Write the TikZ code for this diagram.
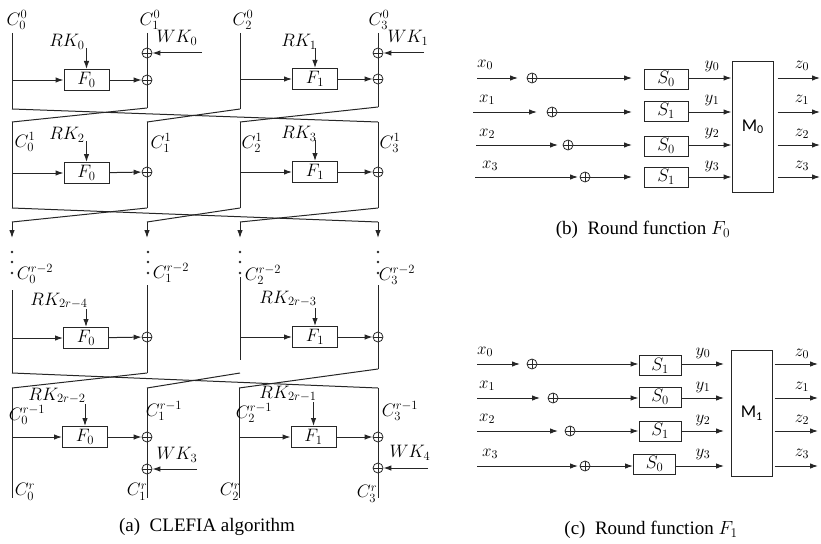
\RequirePackage{fix-cm}
\documentclass[tikz,border=0pt]{standalone}
\usepackage{fontspec}
\setmainfont{Liberation Serif}
\newfontfamily\sansM{Carlito}
\usetikzlibrary{arrows.meta}
\tikzset{
  ln/.style={draw=black!85, line width=1pt},
  arr/.style={ln, -{Latex[length=8pt,width=5.5pt]}},
  fbox/.style={draw=black!85, line width=1pt, minimum width=45pt, minimum height=21pt, inner sep=0pt, font=\fontsize{18}{18}\selectfont},
  sbox/.style={draw=black!85, line width=1pt, minimum width=44pt, minimum height=20pt, inner sep=0pt, font=\fontsize{18}{18}\selectfont},
  mbox/.style={draw=black!85, line width=1pt, minimum width=41pt, inner sep=0pt, font=\fontsize{18}{18}\selectfont},
  xor/.style={circle, draw=black!85, line width=0.8pt, minimum size=10pt, inner sep=0pt,
    path picture={\draw[line width=0.7pt] (path picture bounding box.north) -- (path picture bounding box.south)
      (path picture bounding box.west) -- (path picture bounding box.east);}},
  lab/.style={inner sep=0pt, font=\fontsize{18}{18}\selectfont},
  rlab/.style={inner sep=0pt, font=\fontsize{17}{17}\selectfont},
  captxt/.style={inner sep=0pt, font=\fontsize{19}{19}\selectfont},
  dotn/.style={circle, fill=black!85, inner sep=0pt, minimum size=2.8pt},
}
\begin{document}
\begin{tikzpicture}[x=1pt,y=-1pt]
\useasboundingbox (0,0) rectangle (821,543);
% ===================== (a) CLEFIA =====================
% ---- row 0 ----
\node[lab] (C00) at (17,20) {$C_0^0$};
\node[lab] (C10) at (150,20) {$C_1^0$};
\node[lab] (C20) at (243,20) {$C_2^0$};
\node[lab] (C30) at (379,20) {$C_3^0$};
\coordinate (a0t) at (12,33);  \coordinate (a0b) at (12,109);
\coordinate (a1t) at (147,33); \coordinate (a1b) at (147,108);
\coordinate (a2t) at (240,33); \coordinate (a2b) at (240,109);
\coordinate (a3t) at (378,33); \coordinate (a3b) at (378,107);
\node[fbox] (F00) at (86.5,80) {$F_0$};
\node[fbox] (F10) at (315,79) {$F_1$};
\node[xor] (w0) at (147,53) {};
\node[xor] (p0) at (147,80) {};
\node[xor] (w1) at (378,53) {};
\node[xor] (p1) at (378,79) {};
\draw[ln] (a0t) -- (a0b);
\draw[arr] (a0t |- F00) -- (F00);
\draw[arr] (F00) -- (p0);
\draw[ln] (a1t) -- (w0) -- (p0) -- (a1b);
\draw[ln] (a2t) -- (a2b);
\draw[arr] (a2t |- F10) -- (F10);
\draw[arr] (F10) -- (p1);
\draw[ln] (a3t) -- (w1) -- (p1) -- (a3b);
\coordinate (wk0s) at (202,53); \draw[arr] (wk0s) -- (w0);
\node[lab] (WK0) at (177,38) {$WK_0$};
\coordinate (wk1s) at (424,53); \draw[arr] (wk1s) -- (w1);
\node[lab] (WK1) at (408,38) {$WK_1$};
\node[lab] (RK0) at (67,42) {$RK_0$};
\coordinate (rk0s) at (86.5,48); \draw[arr] (rk0s) -- (F00);
\node[lab] (RK1) at (299,42) {$RK_1$};
\coordinate (rk1s) at (315,48); \draw[arr] (rk1s) -- (F10);
% ---- crossing 1 ----
\coordinate (b0t) at (12,122);  \coordinate (b0b) at (12,208);
\coordinate (b1t) at (147,122); \coordinate (b1b) at (147,208);
\coordinate (b2t) at (240,122); \coordinate (b2b) at (240,208);
\coordinate (b3t) at (378,122); \coordinate (b3b) at (378,208);
\draw[ln] (a0b) -- (b3t);
\draw[ln] (a1b) -- (b0t);
\draw[ln] (a2b) -- (b1t);
\draw[ln] (a3b) -- (b2t);
% ---- row 1 ----
\node[fbox] (F01) at (86.5,173) {$F_0$};
\node[fbox] (F11) at (315,172) {$F_1$};
\node[xor] (p2) at (147,172) {};
\node[xor] (p3) at (378,172) {};
\draw[ln] (b0t) -- (b0b);
\draw[arr] (b0t |- F01) -- (F01);
\draw[arr] (F01) -- (p2);
\draw[ln] (b1t) -- (p2) -- (b1b);
\draw[ln] (b2t) -- (b2b);
\draw[arr] (b2t |- F11) -- (F11);
\draw[arr] (F11) -- (p3);
\draw[ln] (b3t) -- (p3) -- (b3b);
\node[lab] (C01) at (25,142) {$C_0^1$};
\node[lab] (C11) at (161,143) {$C_1^1$};
\node[lab] (C21) at (252,143) {$C_2^1$};
\node[lab] (C31) at (390,143) {$C_3^1$};
\node[lab] (RK2) at (67,135) {$RK_2$};
\coordinate (rk2s) at (86.5,141); \draw[arr] (rk2s) -- (F01);
\node[lab] (RK3) at (299,134) {$RK_3$};
\coordinate (rk3s) at (315,140); \draw[arr] (rk3s) -- (F11);
% ---- crossing 2 ----
\coordinate (c0t) at (12,222);  \coordinate (c0a) at (12,238);
\coordinate (c1t) at (147,222); \coordinate (c1a) at (147,238);
\coordinate (c2t) at (240,222); \coordinate (c2a) at (240,238);
\coordinate (c3t) at (378,222); \coordinate (c3a) at (378,238);
\draw[ln] (b0b) -- (c3t);
\draw[ln] (b1b) -- (c0t);
\draw[ln] (b2b) -- (c1t);
\draw[ln] (b3b) -- (c2t);
\draw[arr] (c0t) -- (c0a);
\draw[arr] (c1t) -- (c1a);
\draw[arr] (c2t) -- (c2a);
\draw[arr] (c3t) -- (c3a);
% ---- dots ----
\foreach \xx/\nm in {12/q0,148/q1,240/q2,378/q3}{
  \node[dotn] (\nm a) at (\xx,252) {};
  \node[dotn] (\nm b) at (\xx,262) {};
  \node[dotn] (\nm c) at (\xx,273) {};
}
\node[lab] (C0r2) at (35,274) {$C_0^{r-2}$};
\node[lab] (C1r2) at (171,273) {$C_1^{r-2}$};
\node[lab] (C2r2) at (263,275) {$C_2^{r-2}$};
\node[lab] (C3r2) at (397,275) {$C_3^{r-2}$};
% ---- row r-2 ----
\coordinate (d0t) at (12,290);  \coordinate (d0b) at (12,373);
\coordinate (d1t) at (147,285); \coordinate (d1b) at (147,373);
\coordinate (d2t) at (240,277); \coordinate (d2b) at (240,360); \coordinate (d2c) at (240,373);
\coordinate (d3t) at (378,285); \coordinate (d3b) at (378,369);
\node[fbox] (F02) at (86,338) {$F_0$};
\node[fbox] (F12) at (315,337) {$F_1$};
\node[xor] (p4) at (147,337) {};
\node[xor] (p5) at (378,337) {};
\draw[ln] (d0t) -- (d0b);
\draw[arr] (d0t |- F02) -- (F02);
\draw[arr] (F02) -- (p4);
\draw[ln] (d1t) -- (p4) -- (d1b);
\draw[ln] (d2t) -- (d2b);
\draw[arr] (d2t |- F12) -- (F12);
\draw[arr] (F12) -- (p5);
\draw[ln] (d3t) -- (p5) -- (d3b);
\node[lab] (RK4) at (59,301) {$RK_{2r-4}$};
\coordinate (rk4s) at (86,309); \draw[arr] (rk4s) -- (F02);
\node[lab] (RK5) at (288,299) {$RK_{2r-3}$};
\coordinate (rk5s) at (315,308); \draw[arr] (rk5s) -- (F12);
% ---- crossing 3 ----
\coordinate (e0t) at (12,388);  \coordinate (e0b) at (12,498);
\coordinate (e1t) at (147,388); \coordinate (e1b) at (147,498);
\coordinate (e2t) at (239,388); \coordinate (e2b) at (239,498);
\coordinate (e3t) at (378,388); \coordinate (e3b) at (378,498);
\draw[ln] (d0b) -- (e3t);
\draw[ln] (d1b) -- (e0t);
\draw[ln] (d2c) -- (e1t);
\draw[ln] (d3b) -- (e2t);
% ---- row r-1 ----
\node[fbox] (F03) at (85,437) {$F_0$};
\node[fbox] (F13) at (313.5,437) {$F_1$};
\node[xor] (p6) at (147,437) {};
\node[xor] (w3) at (147,469) {};
\node[xor] (p7) at (378,437) {};
\node[xor] (w4) at (378,468) {};
\draw[ln] (e0t) -- (e0b);
\draw[arr] (e0t |- F03) -- (F03);
\draw[arr] (F03) -- (p6);
\draw[ln] (e1t) -- (p6) -- (w3) -- (e1b);
\draw[ln] (e2t) -- (e2b);
\draw[arr] (e2t |- F13) -- (F13);
\draw[arr] (F13) -- (p7);
\draw[ln] (e3t) -- (p7) -- (w4) -- (e3b);
\coordinate (wk3s) at (197,469); \draw[arr] (wk3s) -- (w3);
\node[lab] (WK3) at (177,455) {$WK_3$};
\coordinate (wk4s) at (428,468); \draw[arr] (wk4s) -- (w4);
\node[lab] (WK4) at (410,453) {$WK_4$};
\node[lab] (RK6) at (57,396) {$RK_{2r-2}$};
\coordinate (rk6s) at (85,404); \draw[arr] (rk6s) -- (F03);
\node[lab] (RK7) at (288,394) {$RK_{2r-1}$};
\coordinate (rk7s) at (313.5,402); \draw[arr] (rk7s) -- (F13);
\node[lab] (C0r1) at (27,415) {$C_0^{r-1}$};
\node[lab] (C1r1) at (164,411) {$C_1^{r-1}$};
\node[lab] (C2r1) at (254,413) {$C_2^{r-1}$};
\node[lab] (C3r1) at (400,411) {$C_3^{r-1}$};
\node[lab] (C0r) at (25,492) {$C_0^{r}$};
\node[lab] (C1r) at (137,492) {$C_1^{r}$};
\node[lab] (C2r) at (230,492) {$C_2^{r}$};
\node[lab] (C3r) at (367,494) {$C_3^{r}$};
\node[captxt] (capa) at (207,527) {(a)\enspace CLEFIA algorithm};
% ===================== (b) F0 =====================
\node[mbox, minimum height=131pt] (M0) at (752.5,127) {{\sansM M\raisebox{-2.5pt}{\fontsize{12}{12}\selectfont 0}}};
\foreach \i/\yy/\xs/\xe/\xo/\sb/\sy in {0/78/477/518/532/0/79, 1/112/473/537/552/1/111, 2/145/476/558/568/0/146, 3/177/475/578/585/1/177}{
  \coordinate (bxs\i) at (\xs,\yy);
  \coordinate (bxe\i) at (\xe,\yy);
  \node[xor] (bx\i) at (\xo,\yy) {};
  \coordinate (bse\i) at (632,\yy);
  \node[sbox] (bS\i) at (666,\sy) {$S_\sb$};
  \draw[arr] (bxs\i) -- (bxe\i);
  \draw[arr] (bx\i) -- (bse\i);
  \draw[arr] (bS\i.east |- 0,\yy) -- (M0.west |- 0,\yy);
  \coordinate (bze\i) at (820,\yy);
  \draw[arr] (M0.east |- 0,\yy) ++(4,0) -- (bze\i);
}
\node[rlab] at (485,65) {$x_0$};
\node[rlab] at (487,100) {$x_1$};
\node[rlab] at (487,134) {$x_2$};
\node[rlab] at (490,166) {$x_3$};
\node[rlab] at (712,66) {$y_0$};
\node[rlab] at (712,100) {$y_1$};
\node[rlab] at (712,133) {$y_2$};
\node[rlab] at (712,166) {$y_3$};
\node[rlab] at (802,66) {$z_0$};
\node[rlab] at (802,100) {$z_1$};
\node[rlab] at (802,134) {$z_2$};
\node[rlab] at (802,166) {$z_3$};
\node[captxt] (capb) at (643,230) {(b)\enspace Round function $F_0$};
% ===================== (c) F1 =====================
\node[mbox, minimum height=126pt] (M1) at (751.5,413) {{\sansM M\raisebox{-2.5pt}{\fontsize{12}{12}\selectfont 1}}};
\foreach \i/\yy/\xe/\xo/\se/\sb/\sx/\sy in {0/364/520/532/635/1/660/365.5, 1/398/540/553/633/0/660/397, 2/431/558/570/633/1/660/431, 3/466/578/585/632/0/654.5/464}{
  \coordinate (cxs\i) at (477,\yy);
  \coordinate (cxe\i) at (\xe,\yy);
  \node[xor] (cx\i) at (\xo,\yy) {};
  \node[sbox, minimum width=42pt] (cS\i) at (\sx,\sy) {$S_\sb$};
  \draw[arr] (cxs\i) -- (cxe\i);
  \draw[arr] (cx\i) -- (cS\i.west |- 0,\yy);
  \draw[arr] (cS\i.east |- 0,\yy) -- (724,\yy);
  \coordinate (cze\i) at (818,\yy);
  \draw[arr] (M1.east |- 0,\yy) ++(2,0) -- (cze\i);
}
\node[rlab] at (485,352) {$x_0$};
\node[rlab] at (487,386) {$x_1$};
\node[rlab] at (487,419) {$x_2$};
\node[rlab] at (490,454) {$x_3$};
\node[rlab] at (703,353) {$y_0$};
\node[rlab] at (703,387) {$y_1$};
\node[rlab] at (703,420) {$y_2$};
\node[rlab] at (703,454) {$y_3$};
\node[rlab] at (802,354) {$z_0$};
\node[rlab] at (802,387) {$z_1$};
\node[rlab] at (802,420) {$z_2$};
\node[rlab] at (802,454) {$z_3$};
\node[captxt] (capc) at (651,530) {(c)\enspace Round function $F_1$};
\end{tikzpicture}
\end{document}
